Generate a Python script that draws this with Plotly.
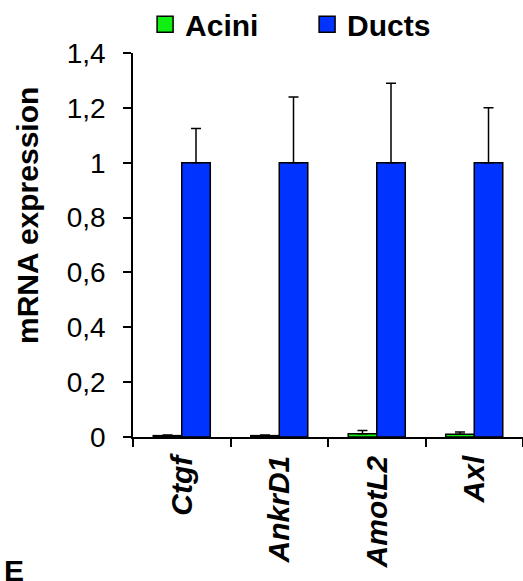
import plotly.graph_objects as go

genes = ["Ctgf", "AnkrD1", "AmotL2", "Axl"]
acini_values = [0.005, 0.005, 0.012, 0.010]
acini_err = [0.002, 0.002, 0.012, 0.008]
ducts_values = [1.0, 1.0, 1.0, 1.0]
ducts_err = [0.125, 0.24, 0.29, 0.20]
y_ticks = [0, 0.2, 0.4, 0.6, 0.8, 1.0, 1.2, 1.4]

FONT = "Liberation Sans, Arial, sans-serif"
GREEN = "#11ee11"
BLUE = "#0033ff"
tick_text = ["<b><i>%s</i></b>" % g for g in genes]

fig = go.Figure()
fig.add_trace(go.Bar(
    name="Acini", x=genes, y=acini_values, showlegend=False,
    marker=dict(color=GREEN, line=dict(color="black", width=1.5)),
    error_y=dict(type="data", array=acini_err, arrayminus=[0]*4, symmetric=False,
                 color="black", thickness=1.5, width=5),
))
fig.add_trace(go.Bar(
    name="Ducts", x=genes, y=ducts_values, showlegend=False,
    marker=dict(color=BLUE, line=dict(color="black", width=1.5)),
    error_y=dict(type="data", array=ducts_err, arrayminus=[0]*4, symmetric=False,
                 color="black", thickness=1.5, width=5),
))
# legend entries (square swatches)
for nm, col in [("Acini", GREEN), ("Ducts", BLUE)]:
    fig.add_trace(go.Scatter(
        name="<b>%s</b>" % nm, x=[None], y=[None], mode="markers",
        marker=dict(symbol="square", size=16, color=col, line=dict(color="black", width=1.5)),
        hoverinfo="skip",
    ))

fig.update_layout(
    width=523, height=581,
    margin=dict(l=133, r=0, t=53, b=144, autoexpand=False),
    paper_bgcolor="white", plot_bgcolor="white",
    separators=",.",
    barmode="group", bargap=0.415, bargroupgap=0,
    font=dict(family=FONT, size=28, color="black"),
    legend=dict(orientation="h", x=0.031, xanchor="left", y=1.075, yanchor="middle",
                entrywidth=117, entrywidthmode="pixels", itemsizing="trace",
                font=dict(family=FONT, size=30, color="black"),
                bgcolor="rgba(0,0,0,0)", itemclick=False, itemdoubleclick=False),
    xaxis=dict(
        tickmode="array", tickvals=genes, ticktext=tick_text,
        tickangle=-90, tickson="boundaries", ticks="outside", ticklen=8, tickwidth=1.5,
        tickcolor="black", showline=True, linecolor="black", linewidth=1.5,
        showgrid=False, zeroline=False, range=[-0.5, 3.5],
        tickfont=dict(family=FONT, size=30, color="black"),
        ticklabelstandoff=5, automargin=False,
    ),
    yaxis=dict(
        range=[0, 1.4], tickmode="array", tickvals=y_ticks,
        ticks="outside", ticklen=8, tickwidth=1.5, tickcolor="black",
        showline=True, linecolor="black", linewidth=1.5,
        showgrid=False, zeroline=False,
        tickfont=dict(family=FONT, size=28, color="black"),
        ticklabelstandoff=12, automargin=False,
    ),
)

# y-axis title (placed slightly above plot centre as in the reference)
fig.add_annotation(text="<b>mRNA expression</b>", xref="paper", yref="paper",
                   x=(27 - 133) / 390, y=(437 - 216) / 384, xanchor="center", yanchor="middle",
                   textangle=-90, showarrow=False,
                   font=dict(family=FONT, size=30, color="black"))

# panel letter (partially cut at the bottom, as in the reference)
fig.add_annotation(text="<b>E</b>", xref="paper", yref="paper",
                   x=(2 - 133) / 390, y=(437 - 552) / 384, xanchor="left", yanchor="top",
                   showarrow=False, font=dict(family=FONT, size=30, color="black"))

fig.write_html("out.html", config={"displayModeBar": False},
               post_script="document.body.style.margin='0';document.body.style.overflow='hidden';")
